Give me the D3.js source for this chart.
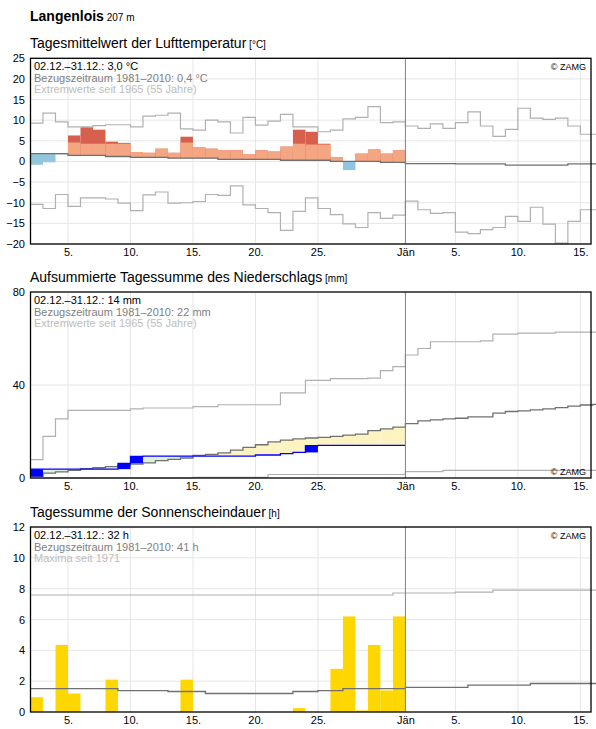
<!DOCTYPE html>
<html><head><meta charset="utf-8">
<script src="https://cdn.jsdelivr.net/npm/d3@7"></script>
<style>body{margin:0;background:#fff;font-family:"Liberation Sans",Arial,sans-serif}</style>
</head><body><svg id="c" width="596" height="729"></svg>
<script>
// days: Dec 2..31 (30 values), Jan 1..16 (16 values)
var tempMean = [-0.8,-0.2,1.7,6.3,8.3,7.7,4.8,4.5,2.3,2.1,3.1,2.1,6.0,3.4,3.1,2.7,2.7,1.7,2.7,2.4,3.6,7.7,7.2,4.3,1.0,-2.1,1.9,2.9,1.9,2.7];
var tempOrange = [null,null,null,4.6,4.3,4.3,4.3,4.3,2.3,2.1,3.1,2.1,4.6,3.4,3.1,2.7,2.7,1.7,2.7,2.4,3.6,4.3,4.1,4.1,1.0,null,1.9,2.9,1.9,2.7];
var tempNormal = [1.9,1.9,1.9,1.5,1.5,1.5,1.2,1.2,1.0,1.0,1.0,0.8,0.8,0.8,0.8,0.5,0.5,0.5,0.5,0.5,0.3,0.3,0.3,0.3,0.0,0.0,0.0,0.0,-0.2,-0.2,
  -0.5,-0.5,-0.5,-0.5,-0.6,-0.6,-0.6,-0.6,-0.9,-0.9,-0.9,-0.9,-0.9,-0.6,-0.6,-0.6];
var tempMax = [9.3,11.7,9.6,8.4,8.4,8.7,8.9,8.9,8.4,11.0,11.2,11.7,7.9,7.6,10.0,9.6,6.9,10.7,8.8,9.8,11.4,8.4,8.4,7.2,7.6,10.3,10.7,13.3,9.4,9.6,
  8.6,8.0,9.1,8.0,9.4,12.0,8.6,6.1,7.8,12.9,10.5,10.2,10.5,8.6,6.6,6.6];
var tempMin = [-10.4,-11.4,-8.0,-10.9,-8.8,-8.8,-9.1,-10.1,-11.9,-8.1,-7.4,-10.1,-10.0,-9.7,-8.0,-8.2,-5.9,-10.5,-11.4,-12.4,-16.7,-12.1,-8.8,-11.4,-12.9,-15.1,-16.0,-12.4,-13.8,-13.0,
  -9.6,-11.7,-12.6,-12.4,-17.1,-17.5,-16.5,-16.0,-13.3,-14.5,-11.1,-15.2,-19.8,-14.5,-11.7,-11.7];

var precipStart = 0.6;
var precipCum = [3.8,3.8,3.8,3.8,3.8,3.8,3.8,6.3,9.3,9.4,9.4,9.4,9.4,9.4,9.4,9.4,9.4,9.4,9.9,9.9,10.5,11.0,13.9,14.0,14.0,14.0,14.0,14.0,14.0,14.0];
var precipNormal = [0.7,2.1,2.6,3.3,4.0,4.4,4.9,5.3,6.0,6.5,7.5,8.0,8.6,9.7,10.2,10.8,12.0,13.2,14.3,15.5,16.3,16.8,17.2,17.5,17.9,18.4,18.9,20.4,21.1,21.9,
  23.4,24.6,25.0,25.4,25.7,26.3,26.3,27.9,28.6,28.9,29.3,29.7,30.3,30.9,31.4,31.7];
var precipMax = [7.9,17.9,25.4,29.1,29.1,29.1,29.1,29.1,29.7,30.1,30.1,30.1,30.1,30.7,30.7,31.5,31.5,31.5,31.5,31.5,36.6,36.6,42.0,42.0,42.7,42.7,42.7,43.0,46.2,47.9,
  52.9,55.7,58.6,58.6,58.6,58.6,59.0,61.9,61.9,62.3,62.3,62.3,62.7,62.7,62.7,62.7];
var precipMin = [0,0,0,0,0,0,0,0,0,0,0,0,0,0.3,0.3,0.3,0.3,0.3,0.3,1.5,1.5,1.5,1.5,1.5,1.5,1.5,1.5,1.5,1.5,1.5,
  2.7,2.7,2.7,3.3,3.3,3.3,3.3,3.3,3.3,3.3,3.3,3.3,3.3,3.3,3.3,3.3];

var sunHours = [0.96,0,4.35,1.2,0,0,2.1,0,0,0,0,0,2.1,0,0,0,0,0,0,0,0,0.25,0,0,2.8,6.2,0.1,4.35,1.4,6.2];
var sunNormal = [1.52,1.52,1.52,1.52,1.52,1.52,1.52,1.39,1.39,1.39,1.39,1.33,1.33,1.33,1.2,1.2,1.2,1.2,1.2,1.2,1.2,1.33,1.33,1.39,1.39,1.52,1.52,1.52,1.52,1.52,
  1.6,1.6,1.6,1.6,1.6,1.74,1.74,1.74,1.74,1.74,1.85,1.85,1.85,1.85,1.85,1.85];
var sunMax = [7.59,7.59,7.59,7.59,7.59,7.59,7.59,7.59,7.59,7.59,7.59,7.59,7.59,7.59,7.59,7.59,7.59,7.59,7.59,7.59,7.59,7.59,7.59,7.59,7.59,7.59,7.59,7.59,7.59,7.72,
  7.72,7.72,7.72,7.72,7.78,7.78,7.78,7.91,7.91,7.91,7.91,7.91,7.91,7.91,7.91,7.91];

var tickPos = [3,8,13,18,23,30,34,39,44];
var tickLabels = ["5.","10.","15.","20.","25.","Jän","5.","10.","15."];

var svg = d3.select("#c");
var x = d3.scaleLinear().domain([0,44.85]).range([30.5,591]);

svg.append("text").attr("x",30).attr("y",21).attr("font-size",14).attr("font-weight","bold").text("Langenlois")
  .append("tspan").attr("font-size",10).attr("font-weight","normal").text(" 207 m");

function stepLine(g, y, vals, color, width) {
  var pts = vals.map((v,i)=>[i,v]); pts.push([vals.length, vals[vals.length-1]]);
  g.append("path").attr("d", d3.line().curve(d3.curveStepAfter).x(d=>x(d[0])).y(d=>y(d[1]))(pts))
    .attr("fill","none").attr("stroke",color).attr("stroke-width",width||1);
}

function panel(top, bottom, domain, ticks, grid, title, unit, legend, zamgBottom) {
  var y = d3.scaleLinear().domain(domain).range([bottom, top]);
  svg.append("text").attr("x",30).attr("y",top-10).attr("font-size",14).text(title)
    .append("tspan").attr("font-size",10).text(" "+unit);
  var g = svg.append("g");
  g.selectAll(".gy").data(grid).enter().append("line")
    .attr("x1",x(0)).attr("x2",x(44.85)).attr("y1",d=>y(d)).attr("y2",d=>y(d)).attr("stroke","#e6e6e6");
  g.selectAll(".gx").data(tickPos.filter(t=>t!=30)).enter().append("line")
    .attr("x1",d=>x(d)).attr("x2",d=>x(d)).attr("y1",top).attr("y2",bottom).attr("stroke","#e6e6e6");
  svg.append("g").attr("transform","translate(0,"+bottom+")")
    .call(d3.axisBottom(x).tickValues(tickPos).tickFormat((d,i)=>tickLabels[i]).tickSize(0).tickPadding(4))
    .call(a=>a.select(".domain").remove()).selectAll("text").attr("font-size",11).attr("fill","#000").attr("font-family","Liberation Sans");
  svg.append("g").attr("transform","translate(30,0)")
    .call(d3.axisLeft(y).tickValues(ticks).tickSize(0).tickPadding(5))
    .call(a=>a.select(".domain").remove()).selectAll("text").attr("font-size",11).attr("fill","#000").attr("font-family","Liberation Sans");
  var draw = g.append("g");
  var over = svg.append("g");
  over.append("line").attr("x1",x(30)).attr("x2",x(30)).attr("y1",top).attr("y2",bottom).attr("stroke","#808080");
  over.append("rect").attr("x",x(0)).attr("y",top).attr("width",x(44.85)-x(0)).attr("height",bottom-top)
    .attr("fill","none").attr("stroke","#000").attr("stroke-width",1.3);
  var lc = ["#000","#808080","#bdbdbd"];
  legend.forEach((t,i)=>{
    over.append("text").attr("x",34).attr("y",top+12+i*11.5).attr("font-size",11).attr("fill",lc[i]).text(t);
  });
  over.append("text").attr("x",586).attr("y",zamgBottom? bottom-3 : top+12).attr("text-anchor","end")
    .attr("font-size",9).text("© ZAMG");
  return {y:y, g:draw};
}

// Temperature
var p1 = panel(58.3, 244, [-20,25], d3.range(-20,26,5), d3.range(-20,26,5),
  "Tagesmittelwert der Lufttemperatur","[°C]",
  ["02.12.–31.12.: 3,0 °C","Bezugszeitraum 1981–2010: 0,4 °C","Extremwerte seit 1965 (55 Jahre)"]);
tempMean.forEach((v,i)=>{
  var n = tempNormal[i], y = p1.y;
  if (v < n) {
    p1.g.append("rect").attr("x",x(i)).attr("width",x(i+1)-x(i)).attr("y",y(n)).attr("height",y(v)-y(n)).attr("fill","#92c5de");
  } else {
    p1.g.append("rect").attr("x",x(i)).attr("width",x(i+1)-x(i)).attr("y",y(v)).attr("height",y(n)-y(v)).attr("fill","#d6604d");
    var o = tempOrange[i] == null ? v : tempOrange[i];
    p1.g.append("rect").attr("x",x(i)).attr("width",x(i+1)-x(i)).attr("y",y(o)).attr("height",y(n)-y(o)).attr("fill","#f4a582");
  }
});
stepLine(p1.g, p1.y, tempMax, "#b0b0b0", 1.2);
stepLine(p1.g, p1.y, tempMin, "#b0b0b0", 1.2);
stepLine(p1.g, p1.y, tempNormal, "#707070", 1.3);

// Precipitation
var p2 = panel(292, 478, [0,80], [0,40,80], [40],
  "Aufsummierte Tagessumme des Niederschlags","[mm]",
  ["02.12.–31.12.: 14 mm","Bezugszeitraum 1981–2010: 22 mm","Extremwerte seit 1965 (55 Jahre)"], true);
precipCum.forEach((v,i)=>{
  var n = precipNormal[i], y = p2.y;
  p2.g.append("rect").attr("x",x(i)).attr("width",x(i+1)-x(i)).attr("y",y(Math.max(v,n))).attr("height",Math.abs(y(v)-y(n)))
    .attr("fill", v > n ? "#dff0d8" : "#fdf3c0");
});
stepLine(p2.g, p2.y, precipMax, "#b0b0b0", 1.2);
stepLine(p2.g, p2.y, precipMin, "#b0b0b0", 1.2);
stepLine(p2.g, p2.y, precipNormal, "#707070", 1.3);
stepLine(p2.g, p2.y, precipCum, "#0000ff", 1.3);
precipCum.forEach((v,i)=>{
  var prev = i==0 ? precipStart : precipCum[i-1];
  if (v - prev > 1) p2.g.append("rect").attr("x",x(i)).attr("width",x(i+1)-x(i)).attr("y",p2.y(v)).attr("height",p2.y(prev)-p2.y(v)).attr("fill","#0000ff");
});

// Sunshine
var p3 = panel(527, 712, [0,12], d3.range(0,13,2), d3.range(2,13,2),
  "Tagessumme der Sonnenscheindauer","[h]",
  ["02.12.–31.12.: 32 h","Bezugszeitraum 1981–2010: 41 h","Maxima seit 1971"]);
sunHours.forEach((v,i)=>{
  if (v>0) p3.g.append("rect").attr("x",x(i)).attr("width",x(i+1)-x(i)).attr("y",p3.y(v)).attr("height",p3.y(0)-p3.y(v)).attr("fill","#ffd700");
});
stepLine(p3.g, p3.y, sunMax, "#b0b0b0", 1.2);
stepLine(p3.g, p3.y, sunNormal, "#707070", 1.3);
</script></body></html>
